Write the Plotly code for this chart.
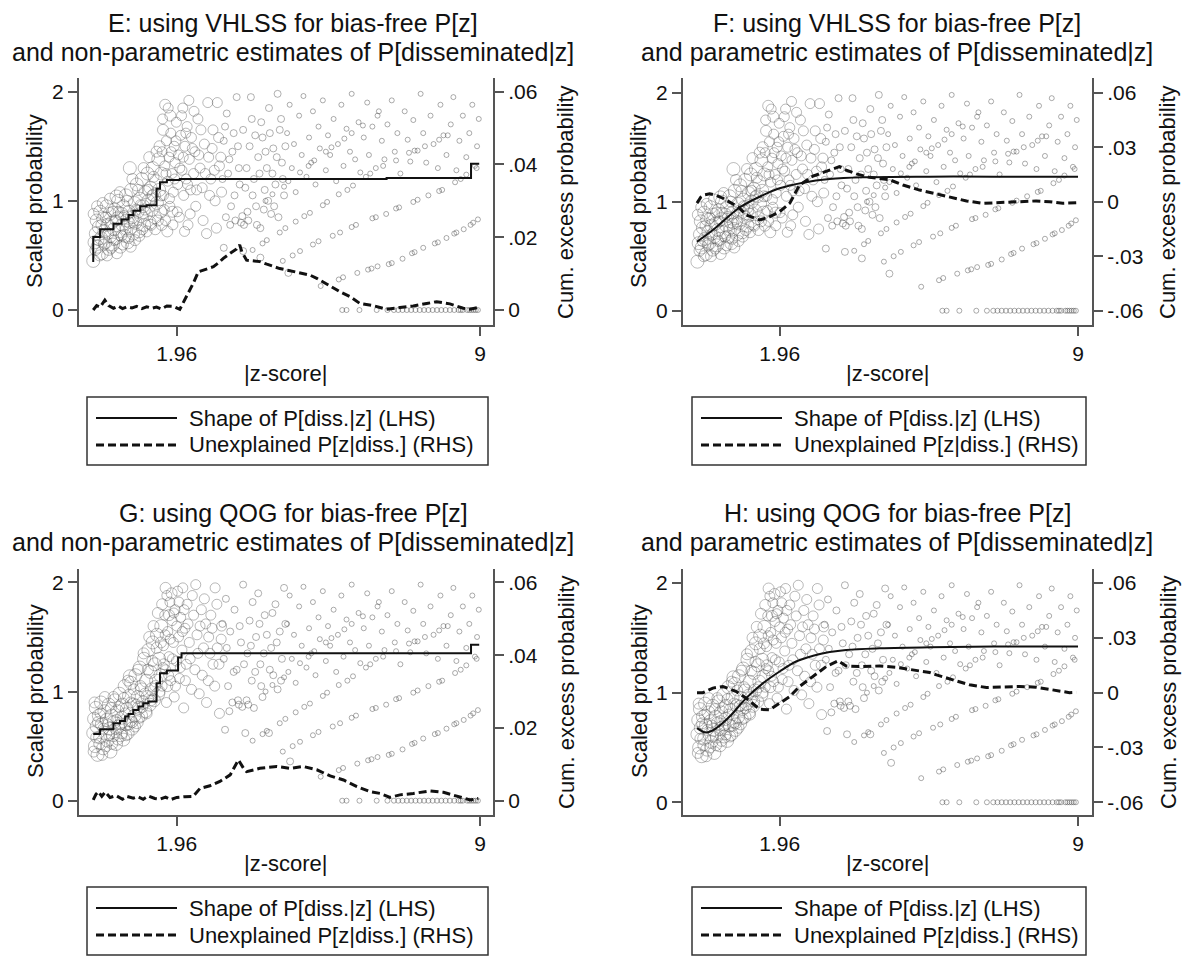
import plotly.graph_objects as go

W, H = 1182, 956
def px(x): return x / W
def py(y): return 1 - y / H

# ---------------- DATA ----------------
# Panel E: VHLSS, non-parametric (step) shape of P[diss.|z] (LHS)
e_step_z = [0.02, 0.02, 0.18, 0.49, 0.68, 0.84, 0.95, 1.11, 1.26, 1.49, 1.57, 1.73, 2.03, 6.83, 8.79, 8.98]
e_step_v = [0.44, 0.67, 0.74, 0.79, 0.83, 0.87, 0.91, 0.95, 0.96, 1.11, 1.17, 1.19, 1.20, 1.21, 1.34, 1.34]
# Panel E: unexplained P[z|diss.] cumulative excess (RHS)
e_cum_z = [0.02, 0.1, 0.18, 0.29, 0.38, 0.49, 0.6, 0.7, 0.8, 0.92, 1.03, 1.15, 1.26, 1.38, 1.49, 1.6,
           1.73, 1.88, 2.03, 2.12, 2.19, 2.34, 2.46, 2.58, 2.7, 2.81, 2.93, 3.04, 3.2, 3.35, 3.42, 3.47,
           3.58, 3.75, 3.89, 4.05, 4.2, 4.35, 4.51, 4.7, 4.9, 5.05, 5.21, 5.37, 5.52, 5.75, 5.98, 6.21,
           6.52, 6.83, 7.14, 7.45, 7.76, 7.99, 8.3, 8.61, 8.77, 8.96]
e_cum_r = [0.0, 0.0012, 0.0008, 0.0027, 0.0012, 0.0005, 0.0011, 0.0004, 0.0009, 0.0006, 0.001, 0.0004,
           0.0009, 0.0005, 0.0008, 0.0003, 0.0011, 0.001, 0.0002, 0.0022, 0.0037, 0.0073, 0.0105, 0.011,
           0.0115, 0.0119, 0.013, 0.0142, 0.0156, 0.0168, 0.0179, 0.016, 0.0137, 0.0135, 0.0133, 0.0126,
           0.0119, 0.0114, 0.011, 0.0105, 0.0101, 0.0096, 0.0087, 0.0076, 0.0064, 0.005, 0.0037, 0.0018,
           0.0012, 0.0002, 0.0007, 0.0011, 0.0018, 0.0023, 0.0017, 0.0005, 0.0002, 0.0007]

# Panel F: VHLSS, parametric
f_fit_z = [0.01, 0.385, 1.01, 1.57, 1.96, 2.51, 3.14, 3.93, 5.5, 7.0, 9.0]
f_fit_v = [0.633, 0.74, 0.945, 1.061, 1.123, 1.174, 1.208, 1.224, 1.23, 1.23, 1.23]
f_cum_z = [0.01, 0.1, 0.2, 0.31, 0.45, 0.62, 0.8, 0.98, 1.17, 1.3, 1.49, 1.72, 1.96, 2.2, 2.43, 2.75,
           3.06, 3.37, 3.53, 3.77, 4.08, 4.56, 4.87, 5.26, 5.66, 6.05, 6.37, 6.76, 7.23, 7.62, 8.01,
           8.33, 8.64, 8.96]
f_cum_r = [-0.0008, 0.0025, 0.0038, 0.0043, 0.0036, 0.0019, -0.0005, -0.0028, -0.0073, -0.0085,
           -0.0101, -0.0083, -0.0055, -0.0008, 0.0092, 0.0141, 0.0165, 0.0193, 0.0174, 0.0153, 0.0134,
           0.012, 0.0092, 0.0064, 0.0043, 0.0022, 0.0004, -0.0009, -0.0005, 0.0, 0.0004, 0.0, -0.0009,
           -0.0006]

# Panel G: QOG, non-parametric
g_step_z = [0.02, 0.18, 0.49, 0.64, 0.76, 0.84, 0.95, 1.07, 1.18, 1.30, 1.49, 1.57, 1.73, 1.99, 2.07, 8.79, 8.98]
g_step_v = [0.612, 0.654, 0.709, 0.731, 0.771, 0.795, 0.832, 0.862, 0.893, 0.908, 1.076, 1.168, 1.193,
            1.312, 1.352, 1.428, 1.428]
g_cum_z = [0.02, 0.08, 0.14, 0.22, 0.3, 0.41, 0.55, 0.7, 0.8, 0.95, 1.05, 1.18, 1.3, 1.45, 1.57, 1.7,
           1.82, 1.96, 2.15, 2.34, 2.5, 2.73, 2.96, 3.2, 3.27, 3.39, 3.51, 3.58, 3.89, 4.28, 4.59, 4.9,
           5.21, 5.52, 5.83, 6.14, 6.44, 6.68, 6.91, 7.14, 7.45, 7.84, 8.15, 8.46, 8.77, 8.96]
g_cum_r = [0.0002, 0.0017, 0.0025, 0.0012, 0.0024, 0.0009, 0.0014, 0.0004, 0.0012, 0.0007, 0.0011,
           0.0004, 0.0013, 0.0006, 0.0004, 0.001, 0.0003, 0.0009, 0.0011, 0.0012, 0.0034, 0.0041,
           0.0053, 0.0071, 0.0086, 0.0112, 0.0089, 0.008, 0.0089, 0.0094, 0.0089, 0.0094, 0.0085,
           0.0068, 0.0057, 0.0039, 0.0025, 0.002, 0.0009, 0.0016, 0.002, 0.0027, 0.0023, 0.0013,
           0.0002, 0.0006]

# Panel H: QOG, parametric
h_fit_z = [0.01, 0.23, 0.465, 0.78, 1.17, 1.57, 1.96, 2.35, 2.75, 3.14, 3.53, 4.32, 5.5, 7.0, 9.0]
h_fit_v = [0.676, 0.636, 0.676, 0.782, 0.95, 1.087, 1.193, 1.284, 1.336, 1.37, 1.39, 1.405, 1.415, 1.42, 1.421]
h_cum_z = [0.01, 0.15, 0.385, 0.62, 0.94, 1.17, 1.49, 1.72, 1.96, 2.2, 2.43, 2.75, 3.06, 3.34, 3.53,
           3.93, 4.32, 4.71, 5.1, 5.5, 5.66, 6.05, 6.44, 6.84, 7.23, 7.62, 8.01, 8.41, 8.8, 8.96]
h_cum_r = [0.0, 0.0, 0.0025, 0.0034, 0.0006, -0.003, -0.0091, -0.0094, -0.0058, -0.0021, 0.0034,
           0.0089, 0.0143, 0.0174, 0.0146, 0.0143, 0.0146, 0.0139, 0.0124, 0.011, 0.0097, 0.007,
           0.0043, 0.0028, 0.003, 0.0034, 0.003, 0.0016, 0.0, 0.0002]

# Scatter of scaled probabilities, VHLSS (panels E, F) -- (|z|, scaled prob.)
vh_big = [(0.02,0.45),(0.05,0.62),(0.08,0.7),(0.1,0.82),(0.12,0.58),(0.15,0.76),(0.18,0.9),(0.2,0.66),
          (0.22,0.52),(0.25,0.84),(0.28,0.72),(0.3,0.62),(0.33,0.95),(0.35,0.78),(0.38,0.56),(0.4,0.88),
          (0.42,0.68),(0.45,0.8),(0.48,0.6),(0.5,0.74),(0.52,0.92),(0.55,0.66),(0.56,1.04),(0.58,0.84),
          (0.6,1.0),(0.62,0.72),(0.65,0.58),(0.68,0.88),(0.7,0.78),(0.72,0.95),(0.75,0.68),(0.78,1.05),
          (0.8,0.82),(0.82,0.62),(0.85,0.9),(0.87,1.3),(0.88,0.75),(0.9,1.1),(0.92,0.85),(0.95,0.7),
          (0.98,0.98),(1.0,0.8),(1.03,1.15),(1.05,0.9),(1.08,0.72),(1.1,1.02),(1.13,0.86),(1.15,1.2),
          (1.18,0.95),(1.2,0.78),(1.23,1.08),(1.25,0.88),(1.28,1.25),(1.3,1.0),(1.33,0.8),(1.35,1.12),
          (1.38,0.92),(1.4,1.3),(1.43,1.05),(1.45,0.85),(1.48,1.18),(1.5,0.98),(1.53,1.38),(1.55,1.1),
          (1.58,0.9),(1.6,1.25)]
vh_big2 = [(0.03,0.88),(0.07,0.55),(0.11,0.95),(0.14,0.64),(0.17,0.5),(0.21,0.78),(0.24,0.98),(0.27,0.6),
           (0.31,0.85),(0.34,0.5),(0.37,0.7),(0.41,1.02),(0.44,0.57),(0.47,0.9),(0.51,0.64),(0.54,0.82),
           (0.57,0.52),(0.61,0.9),(0.64,1.08),(0.67,0.68),(0.71,0.6),(0.74,0.86),(0.77,0.74),(0.81,1.0),
           (0.84,0.66),(0.86,0.8),(0.89,0.58),(0.93,1.2),(0.96,0.82),(0.99,0.64),(1.02,0.92),(1.06,1.1),
           (1.09,0.68),(1.12,0.96),(1.16,0.74),(1.19,1.3),(1.22,0.92),(1.26,0.72),(1.29,1.1),(1.32,1.4),
           (1.36,0.78),(1.39,1.05),(1.42,1.22),(1.46,0.74),(1.49,1.45),(1.52,0.82),(1.56,1.5),(1.59,1.05),
           (1.61,0.78),(1.64,1.65),(1.69,1.88),(1.74,0.72),(1.81,1.78),(1.86,0.9)]
vh_mid = [(1.62,1.45),(1.65,1.05),(1.68,1.32),(1.7,0.82),(1.72,1.55),(1.75,1.18),(1.78,1.4),(1.8,0.95),
          (1.82,1.62),(1.85,1.25),(1.88,1.08),(1.9,1.5),(1.92,1.35),(1.95,1.72),(1.98,1.15),(2.0,1.42),
          (2.02,0.85),(2.05,1.6),(2.08,1.28),(2.1,1.85),(2.12,1.05),(2.15,1.5),(2.18,1.2),(2.2,1.68),
          (2.22,0.78),(2.25,1.38),(2.28,1.1),(2.3,1.58),(2.35,1.25),(2.38,1.45),(2.4,0.95),(2.45,1.75),
          (2.5,1.3),(2.55,1.12),(2.6,1.52),(2.65,0.7),(2.7,1.4),(2.75,1.2),(2.8,1.65),(2.85,1.0),
          (2.9,1.9),(2.95,1.32),(3.0,1.08),
          (1.63,1.75),(1.67,0.92),(1.71,1.25),(1.76,1.85),(1.79,1.02),(1.83,1.45),(1.87,0.78),(1.91,1.2),
          (1.94,1.55),(1.97,0.9),(2.03,1.3),(2.07,1.78),(2.11,1.4),(2.14,0.72),(2.17,1.62),(2.21,1.15),
          (2.24,1.92),(2.27,0.88),(2.32,1.48),(2.36,1.82),(2.42,1.1),(2.47,1.42),(2.52,1.65),(2.57,0.82),
          (2.62,1.25),(2.68,1.9),(2.72,1.05),(2.78,1.48),(2.83,1.28),(2.88,0.75),(2.93,1.58),(2.98,1.4)]
vh_small = [(3.05,1.55),(3.05,0.57),(3.1,0.85),(3.12,1.8),(3.15,1.25),(3.2,0.78),(3.25,1.45),(3.3,1.05),
            (3.35,1.95),(3.4,1.3),(3.45,0.8),(3.5,1.65),(3.5,0.54),(3.55,1.12),(3.6,0.9),(3.65,1.5),
            (3.7,1.75),(3.75,1.2),(3.8,0.95),(3.85,1.4),(3.9,0.75),(3.9,0.48),(3.95,1.58),(4.0,1.1),
            (4.05,1.3),(4.1,1.85),(4.15,0.88),(4.2,1.48),(4.25,1.15),(4.3,1.98),(4.35,1.65),(4.4,1.35),
            (4.45,1.05),(4.55,0.34),
            (3.02,1.2),(3.08,1.68),(3.18,1.38),(3.22,0.95),(3.28,1.62),(3.32,0.82),(3.38,1.5),(3.42,1.15),
            (3.48,0.86),(3.52,0.78),(3.58,1.3),(3.62,0.82),(3.68,1.95),(3.72,1.05),(3.78,1.6),(3.82,0.78),
            (3.88,1.25),(3.92,1.72),(3.98,0.92),(4.02,1.45),(4.08,1.0),(4.12,1.62),(4.18,1.25),(4.22,0.95),
            (4.28,1.4),(4.32,0.85),(4.38,1.75),(4.42,1.2),(4.48,1.5)]

# Scatter of scaled probabilities, QOG (panels G, H)
qg_big = [(0.02,0.62),(0.04,0.75),(0.06,0.5),(0.08,0.85),(0.1,0.68),(0.12,0.42),(0.15,0.78),(0.18,0.58),
          (0.2,0.9),(0.22,0.7),(0.25,0.48),(0.28,0.82),(0.3,0.62),(0.33,0.74),(0.35,0.55),(0.38,0.88),
          (0.4,0.66),(0.42,0.45),(0.45,0.78),(0.48,0.6),(0.5,0.72),(0.52,0.92),(0.55,0.52),(0.58,0.82),
          (0.6,0.68),(0.63,0.98),(0.65,0.6),(0.68,0.76),(0.7,0.88),(0.72,0.56),(0.75,1.05),(0.78,0.7),
          (0.8,0.84),(0.82,0.62),(0.85,0.96),(0.87,1.14),(0.88,0.74),(0.9,1.08),(0.92,0.66),(0.95,0.88),
          (0.98,0.78),(1.0,1.15),(1.03,0.72),(1.05,0.95),(1.08,0.85),(1.1,1.22),(1.13,0.78),(1.15,1.02),
          (1.18,0.9),(1.2,1.3),(1.23,0.82),(1.25,1.1),(1.28,0.95),(1.3,1.38),(1.33,0.88),(1.35,1.18),
          (1.38,1.02),(1.4,1.45),(1.43,0.92),(1.45,1.25),(1.48,1.1),(1.5,1.52),(1.53,0.98),(1.55,1.3),
          (1.58,1.15),(1.6,1.6)]
qg_big2 = [(0.03,0.45),(0.05,0.9),(0.09,0.58),(0.13,0.72),(0.16,0.52),(0.19,0.8),(0.23,0.42),(0.26,0.66),
           (0.29,0.95),(0.32,0.5),(0.36,0.7),(0.39,0.6),(0.43,0.85),(0.46,0.52),(0.49,0.95),(0.53,0.66),
           (0.56,0.74),(0.59,0.56),(0.62,0.86),(0.66,0.7),(0.69,0.62),(0.73,0.94),(0.76,0.8),(0.79,0.6),
           (0.83,1.1),(0.86,0.7),(0.89,0.9),(0.93,0.72),(0.96,1.02),(0.99,0.68),(1.02,0.88),(1.06,1.2),
           (1.09,0.76),(1.12,1.05),(1.16,0.86),(1.19,1.35),(1.22,0.98),(1.26,0.8),(1.29,1.2),(1.32,1.5),
           (1.36,0.92),(1.39,1.28),(1.42,1.6),(1.46,1.05),(1.49,1.4),(1.52,1.72),(1.56,1.0),(1.59,1.45),
           (1.62,1.8),(1.66,1.25),(1.7,1.95),(1.74,1.05),(1.78,1.7),(1.84,1.9)]
qg_mid = [(1.62,1.05),(1.65,1.42),(1.68,1.7),(1.7,1.2),(1.72,0.9),(1.75,1.55),(1.78,1.32),(1.8,1.82),
          (1.82,1.1),(1.85,1.65),(1.88,1.45),(1.9,0.95),(1.92,1.75),(1.95,1.28),(1.98,1.92),(2.0,1.5),
          (2.02,1.12),(2.05,1.68),(2.08,1.38),(2.1,1.95),(2.12,0.85),(2.15,1.58),(2.18,1.25),(2.2,1.8),
          (2.25,1.45),(2.3,1.02),(2.35,1.7),(2.4,1.98),(2.45,1.35),(2.5,1.6),(2.55,1.15),(2.6,1.85),
          (2.65,0.9),(2.7,1.5),(2.75,1.7),(2.8,1.25),(2.85,1.95),(2.9,1.4),(2.95,0.8),(3.0,1.6),
          (1.64,1.22),(1.69,1.52),(1.73,1.88),(1.77,1.15),(1.81,1.48),(1.86,1.3),(1.89,1.72),(1.93,1.05),
          (1.96,1.6),(2.01,1.82),(2.04,1.22),(2.09,1.55),(2.13,1.75),(2.16,1.1),(2.22,1.62),(2.27,1.3),
          (2.32,1.88),(2.38,1.2),(2.43,1.52),(2.48,0.98),(2.53,1.75),(2.58,1.4),(2.63,1.62),(2.69,1.1),
          (2.73,1.35),(2.78,1.58),(2.84,1.05),(2.89,1.8),(2.94,1.25),(2.99,1.48)]
qg_small = [(3.05,1.3),(3.08,0.65),(3.1,1.85),(3.15,1.05),(3.2,1.55),(3.25,0.9),(3.3,1.75),(3.35,1.2),
            (3.4,0.88),(3.45,1.45),(3.5,1.98),(3.55,0.62),(3.58,0.92),(3.6,1.35),(3.65,1.65),(3.7,1.1),
            (3.75,0.85),(3.8,1.5),(3.85,1.9),(3.9,1.25),(3.95,0.95),(4.0,1.7),(4.1,0.62),(4.15,1.4),
            (4.2,1.15),(4.25,1.8),(4.3,1.02),(4.35,1.55),(4.4,1.3),(4.45,1.95),(4.59,0.36),
            (3.02,1.62),(3.12,1.4),(3.18,0.82),(3.28,1.18),(3.38,0.92),(3.42,1.6),(3.48,0.86),(3.52,1.25),
            (3.62,0.88),(3.68,1.42),(3.72,1.82),(3.78,1.18),(3.88,1.62),(3.92,1.05),(3.98,1.35),(4.05,1.52),
            (4.12,1.2),(4.18,1.72),(4.28,1.45),(4.38,1.1),(4.48,1.62)]

# Sparse high-|z| points common to all panels
far_pts = [(5.3,0.22),(5.72,0.28),(5.82,0.3),(6.15,0.34),(6.4,0.37),(6.48,0.38),(6.62,0.4),(6.88,0.42),
           (6.95,0.43),(7.2,0.47),(7.42,0.52),(7.48,0.53),(7.68,0.57),(7.95,0.61),(8.02,0.62),(8.22,0.66),
           (8.4,0.7),(8.45,0.71),(8.62,0.74),(8.78,0.78),(8.84,0.8),(8.95,0.83),
           (4.42,0.45),(4.65,0.5),(4.82,0.54),(5.12,0.6),(5.25,0.63),(5.58,0.68),(5.75,0.71),(6.02,0.76),
           (6.12,0.78),(6.5,0.84),(6.58,0.85),(6.82,0.88),(7.05,0.93),(7.12,0.94),(7.45,0.99),(7.55,1.01),
           (7.8,1.05),(8.05,1.09),(8.12,1.1),(8.42,1.17),(8.55,1.2),(8.68,1.24),(8.92,1.3),
           (3.72,0.55),(3.95,0.61),(4.05,0.64),(4.35,0.71),(4.48,0.75),(4.72,0.81),(4.92,0.86),(5.05,0.89),
           (5.35,0.96),(5.45,0.99),(5.72,1.06),(5.92,1.1),(6.05,1.14),(6.35,1.22),(6.45,1.25),(6.75,1.32),
           (7.05,1.37),(7.35,1.44),(7.48,1.46),(7.72,1.5),(8.05,1.56),(8.25,1.6),
           (4.02,1.0),(4.18,1.06),(4.45,1.13),(4.55,1.18),(4.82,1.26),(5.02,1.32),(5.15,1.37),(5.42,1.45),
           (5.55,1.49),(5.85,1.57),(6.02,1.62),(6.28,1.69),(6.62,1.78),
           (4.52,1.62),(4.58,1.88),(4.63,1.3),(4.68,1.52),(4.72,1.08),(4.8,1.78),(4.86,1.42),(4.9,1.96),
           (4.97,1.22),(5.03,1.58),(5.08,1.35),(5.12,1.82),(5.18,1.15),(5.25,1.68),(5.28,1.48),(5.35,1.92),
           (5.42,1.28),(5.47,1.6),(5.52,1.42),(5.6,1.75),(5.66,1.18),(5.7,1.52),(5.78,1.88),(5.83,1.32),
           (5.9,1.66),(5.98,1.45),(6.02,1.98),(6.1,1.38),(6.18,1.72),(6.22,1.26),(6.3,1.58),(6.38,1.9),
           (6.42,1.42),(6.5,1.68),(6.58,1.3),(6.65,1.82),(6.72,1.55),(6.78,1.38),(6.85,1.7),(6.95,1.92),
           (7.02,1.45),(7.08,1.62),(7.15,1.25),(7.25,1.82),(7.32,1.56),(7.38,1.36),(7.45,1.74),(7.55,1.46),
           (7.62,1.98),(7.68,1.62),(7.75,1.35),(7.85,1.78),(7.92,1.52),(8.02,1.3),(8.08,1.88),(8.15,1.6),
           (8.22,1.42),(8.32,1.7),(8.38,1.95),(8.45,1.28),(8.52,1.55),(8.6,1.78),(8.68,1.4),(8.75,1.62),
           (8.82,1.88),(8.88,1.32),(8.93,1.5),(8.97,1.75)]
zero_z = [5.8, 5.9, 6.2, 6.6, 6.85, 7.0, 7.1, 7.2, 7.3, 7.4, 7.5, 7.6, 7.7, 7.8, 7.9, 8.0, 8.1, 8.2,
          8.3, 8.4, 8.5, 8.55, 8.6, 8.7, 8.75, 8.8, 8.85, 8.9, 8.95]

titles = [("E: using VHLSS for bias-free P[z]", "and non-parametric estimates of P[disseminated|z]"),
          ("F: using VHLSS for bias-free P[z]", "and parametric estimates of P[disseminated|z]"),
          ("G: using QOG for bias-free P[z]", "and non-parametric estimates of P[disseminated|z]"),
          ("H: using QOG for bias-free P[z]", "and parametric estimates of P[disseminated|z]")]
legend_labels = ["Shape of P[diss.|z] (LHS)", "Unexplained P[z|diss.] (RHS)"]

# ---------------- LAYOUT GEOMETRY (pixels) ----------------
FONT = "Liberation Sans, Arial, sans-serif"
AX = "#555555"
panels = [
    dict(x0=79, x1=493, y0=78, y1=325, xr=[-0.31, 9.30], yr=[-0.137, 2.125], rr=[-0.00411, 0.06375],
         rt=[0, 0.02, 0.04, 0.06], rl=["0", ".02", ".04", ".06"], dy=0, tcx=293, lx0=87, lx1=488),
    dict(x0=683, x1=1092, y0=78, y1=325, xr=[-0.32, 9.33], yr=[-0.131, 2.135], rr=[-0.0679, 0.0681],
         rt=[-0.06, -0.03, 0, 0.03, 0.06], rl=["-.06", "-.03", "0", ".03", ".06"], dy=0, tcx=897, lx0=692, lx1=1086),
    dict(x0=79, x1=493, y0=569, y1=815, xr=[-0.31, 9.30], yr=[-0.131, 2.123], rr=[-0.00393, 0.06369],
         rt=[0, 0.02, 0.04, 0.06], rl=["0", ".02", ".04", ".06"], dy=490, tcx=293, lx0=87, lx1=488),
    dict(x0=683, x1=1092, y0=569, y1=815, xr=[-0.32, 9.33], yr=[-0.116, 2.128], rr=[-0.06696, 0.06768],
         rt=[-0.06, -0.03, 0, 0.03, 0.06], rl=["-.06", "-.03", "0", ".03", ".06"], dy=490, tcx=897, lx0=692, lx1=1086),
]
lines_data = [
    (e_step_z, e_step_v, "hv", e_cum_z, e_cum_r),
    (f_fit_z, f_fit_v, "spline", f_cum_z, f_cum_r),
    (g_step_z, g_step_v, "hv", g_cum_z, g_cum_r),
    (h_fit_z, h_fit_v, "spline", h_cum_z, h_cum_r),
]
clouds = [(vh_big, vh_big2, vh_mid, vh_small), (vh_big, vh_big2, vh_mid, vh_small),
          (qg_big, qg_big2, qg_mid, qg_small), (qg_big, qg_big2, qg_mid, qg_small)]

fig = go.Figure()
layout = dict(width=W, height=H, margin=dict(l=0, r=0, t=0, b=0), plot_bgcolor="white",
              paper_bgcolor="white", showlegend=False, font=dict(family=FONT, color="#111111"))
shapes, annots = [], []

def add_pts(pts, xa, ya, size, alpha):
    fig.add_trace(go.Scatter(x=[p[0] for p in pts], y=[p[1] for p in pts], mode="markers",
                             xaxis=xa, yaxis=ya, hoverinfo="skip",
                             marker=dict(symbol="circle-open", size=size,
                                         color="rgba(70,70,70,%s)" % alpha, line=dict(width=1))))

for i, p in enumerate(panels):
    xn = "" if i == 0 else str(i + 1)
    yl = 2 * i + 1
    yr_ = 2 * i + 2
    xa, ya, yb = "x" + xn, "y" + ("" if yl == 1 else str(yl)), "y" + str(yr_)
    common = dict(showline=True, linecolor=AX, linewidth=2, ticks="outside", ticklen=9,
                  tickwidth=2, tickcolor=AX, showgrid=False, zeroline=False,
                  tickfont=dict(family=FONT, size=21, color="#111111"), fixedrange=True)
    layout["xaxis" + xn] = dict(domain=[px(p["x0"]), px(p["x1"])], range=p["xr"], anchor=ya,
                                tickvals=[1.96, 9], ticktext=["1.96", "9"], **common)
    layout["yaxis" + ("" if yl == 1 else str(yl))] = dict(
        domain=[py(p["y1"]), py(p["y0"])], range=p["yr"], anchor=xa,
        tickvals=[0, 1, 2], ticktext=["0", "1", "2"], **common)
    layout["yaxis" + str(yr_)] = dict(range=p["rr"], anchor=xa, overlaying=ya, side="right",
                                     tickvals=p["rt"], ticktext=p["rl"], **common)

    big, big2, mid, small = clouds[i]
    add_pts(far_pts, xa, ya, 5, 0.45)
    add_pts([(z, 0) for z in zero_z], xa, ya, 5, 0.45)
    add_pts(small, xa, ya, 7, 0.42)
    add_pts(mid, xa, ya, 10, 0.38)
    add_pts(big2, xa, ya, 11, 0.36)
    add_pts(big, xa, ya, 13, 0.36)

    sz, sv, shp, cz, cr = lines_data[i]
    fig.add_trace(go.Scatter(x=sz, y=sv, mode="lines", xaxis=xa, yaxis=ya, hoverinfo="skip",
                             line=dict(color="#111111", width=2, shape=shp)))
    fig.add_trace(go.Scatter(x=cz, y=cr, mode="lines", xaxis=xa, yaxis=yb, hoverinfo="skip",
                             line=dict(color="#111111", width=3, dash="8px,4px")))

    dy = p["dy"]
    for txt, yy in ((titles[i][0], 23), (titles[i][1], 52)):
        annots.append(dict(text=txt, x=px(p["tcx"]), y=py(yy + dy), xref="paper", yref="paper",
                           xanchor="center", yanchor="middle", showarrow=False,
                           font=dict(family=FONT, size=25, color="#111111")))
    cx = (p["x0"] + p["x1"]) / 2
    annots.append(dict(text="|z-score|", x=px(cx), y=py(373 + dy), xref="paper", yref="paper",
                       xanchor="center", yanchor="middle", showarrow=False,
                       font=dict(family=FONT, size=22, color="#111111")))
    annots.append(dict(text="Scaled probability", x=px(p["x0"] - 44), y=py(201 + dy), xref="paper",
                       yref="paper", xanchor="center", yanchor="middle", textangle=-90,
                       showarrow=False, font=dict(family=FONT, size=22, color="#111111")))
    annots.append(dict(text="Cum. excess probability", x=px(p["x1"] + 73 if i % 2 == 0 else p["x1"] + 76),
                       y=py(202 + dy), xref="paper", yref="paper", xanchor="center", yanchor="middle",
                       textangle=-90, showarrow=False, font=dict(family=FONT, size=22, color="#111111")))
    lx0, lx1 = p["lx0"], p["lx1"]
    shapes.append(dict(type="rect", xref="paper", yref="paper", x0=px(lx0), x1=px(lx1),
                       y0=py(465 + dy), y1=py(397 + dy), line=dict(color="#333333", width=1.5),
                       fillcolor="white"))
    for k, (yy, dash, wd) in enumerate(((418, "solid", 2), (445, "8px,4px", 3))):
        shapes.append(dict(type="line", xref="paper", yref="paper", x0=px(lx0 + 9), x1=px(lx0 + 90),
                           y0=py(yy + dy), y1=py(yy + dy), line=dict(color="#111111", width=wd, dash=dash)))
        annots.append(dict(text=legend_labels[k], x=px(lx0 + 100), y=py(yy + dy), xref="paper",
                           yref="paper", xanchor="left", yanchor="middle", showarrow=False,
                           font=dict(family=FONT, size=22, color="#111111")))

layout["shapes"] = shapes
layout["annotations"] = annots
fig.update_layout(**layout)
fig.write_html("out.html")
